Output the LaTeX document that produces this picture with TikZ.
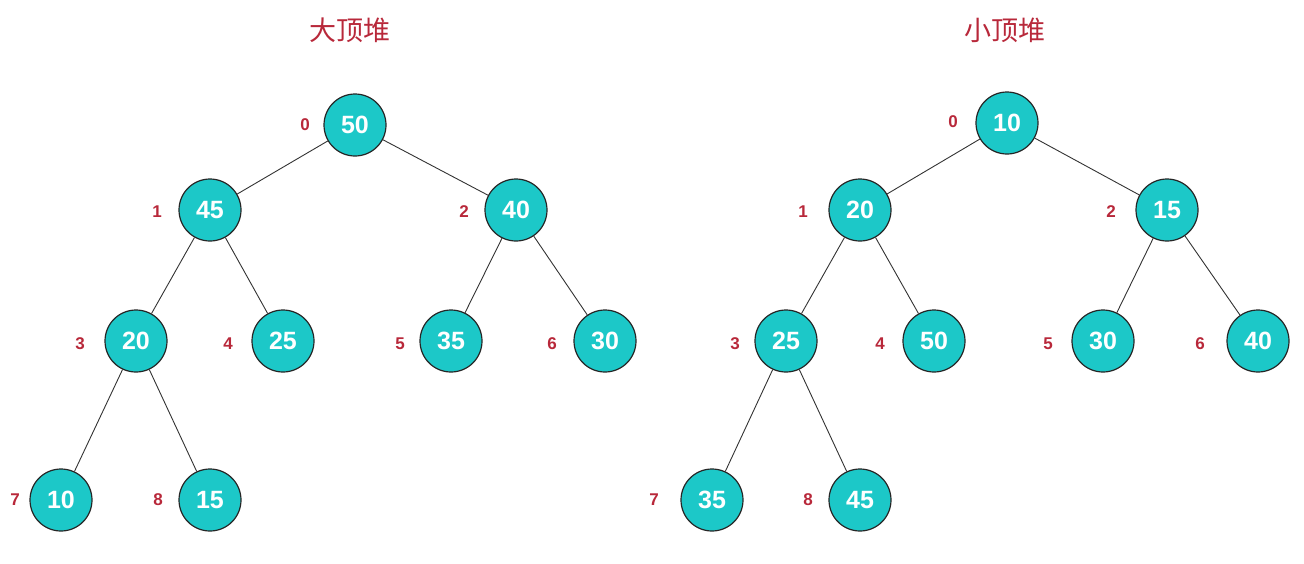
\documentclass[tikz,border=0pt]{standalone}
\usepackage{fontspec}
\setmainfont{Liberation Sans}
\newfontfamily\cjk{Noto Sans CJK SC}
\definecolor{tealc}{HTML}{1CC8C8}
\definecolor{redc}{HTML}{B8283A}
\begin{document}
\begin{tikzpicture}[x=1pt,y=-1pt,
  hn/.style={circle,draw=black!85,line width=1.2pt,fill=tealc,minimum size=62pt,inner sep=0pt,text=white,font=\fontsize{25}{25}\selectfont\bfseries},
  idx/.style={text=redc,font=\fontsize{17}{17}\selectfont\bfseries},
  ttl/.style={text=redc,font=\cjk\fontsize{27}{27}\selectfont},
  ed/.style={draw=black!80,line width=0.9pt}]
\useasboundingbox (0,0) rectangle (1304,563);
\node[ttl] (t1) at (350,30) {大顶堆};
\node[ttl] (t2) at (1005,30) {小顶堆};
% left
\node[hn] (a0) at (355,125) {50};
\node[hn] (a1) at (210,210) {45};
\node[hn] (a2) at (516,210) {40};
\node[hn] (a3) at (136,341) {20};
\node[hn] (a4) at (283,341) {25};
\node[hn] (a5) at (451,341) {35};
\node[hn] (a6) at (605,341) {30};
\node[hn] (a7) at (61,500) {10};
\node[hn] (a8) at (210,500) {15};
\draw[ed] (a0)--(a1) (a0)--(a2) (a1)--(a3) (a1)--(a4) (a2)--(a5) (a2)--(a6) (a3)--(a7) (a3)--(a8);
\node[idx] (i0) at (305,125) {0};
\node[idx] (i1) at (157,212) {1};
\node[idx] (i2) at (464,212) {2};
\node[idx] (i3) at (80,344) {3};
\node[idx] (i4) at (228,344) {4};
\node[idx] (i5) at (400,344) {5};
\node[idx] (i6) at (552,344) {6};
\node[idx] (i7) at (15,500) {7};
\node[idx] (i8) at (158,500) {8};
% right
\node[hn] (b0) at (1007,123) {10};
\node[hn] (b1) at (860,210) {20};
\node[hn] (b2) at (1167,210) {15};
\node[hn] (b3) at (786,341) {25};
\node[hn] (b4) at (934,341) {50};
\node[hn] (b5) at (1103,341) {30};
\node[hn] (b6) at (1258,341) {40};
\node[hn] (b7) at (712,500) {35};
\node[hn] (b8) at (860,500) {45};
\draw[ed] (b0)--(b1) (b0)--(b2) (b1)--(b3) (b1)--(b4) (b2)--(b5) (b2)--(b6) (b3)--(b7) (b3)--(b8);
\node[idx] (j0) at (953,122) {0};
\node[idx] (j1) at (803,212) {1};
\node[idx] (j2) at (1111,212) {2};
\node[idx] (j3) at (735,344) {3};
\node[idx] (j4) at (880,344) {4};
\node[idx] (j5) at (1048,344) {5};
\node[idx] (j6) at (1200,344) {6};
\node[idx] (j7) at (654,500) {7};
\node[idx] (j8) at (808,500) {8};
\end{tikzpicture}
\end{document}
